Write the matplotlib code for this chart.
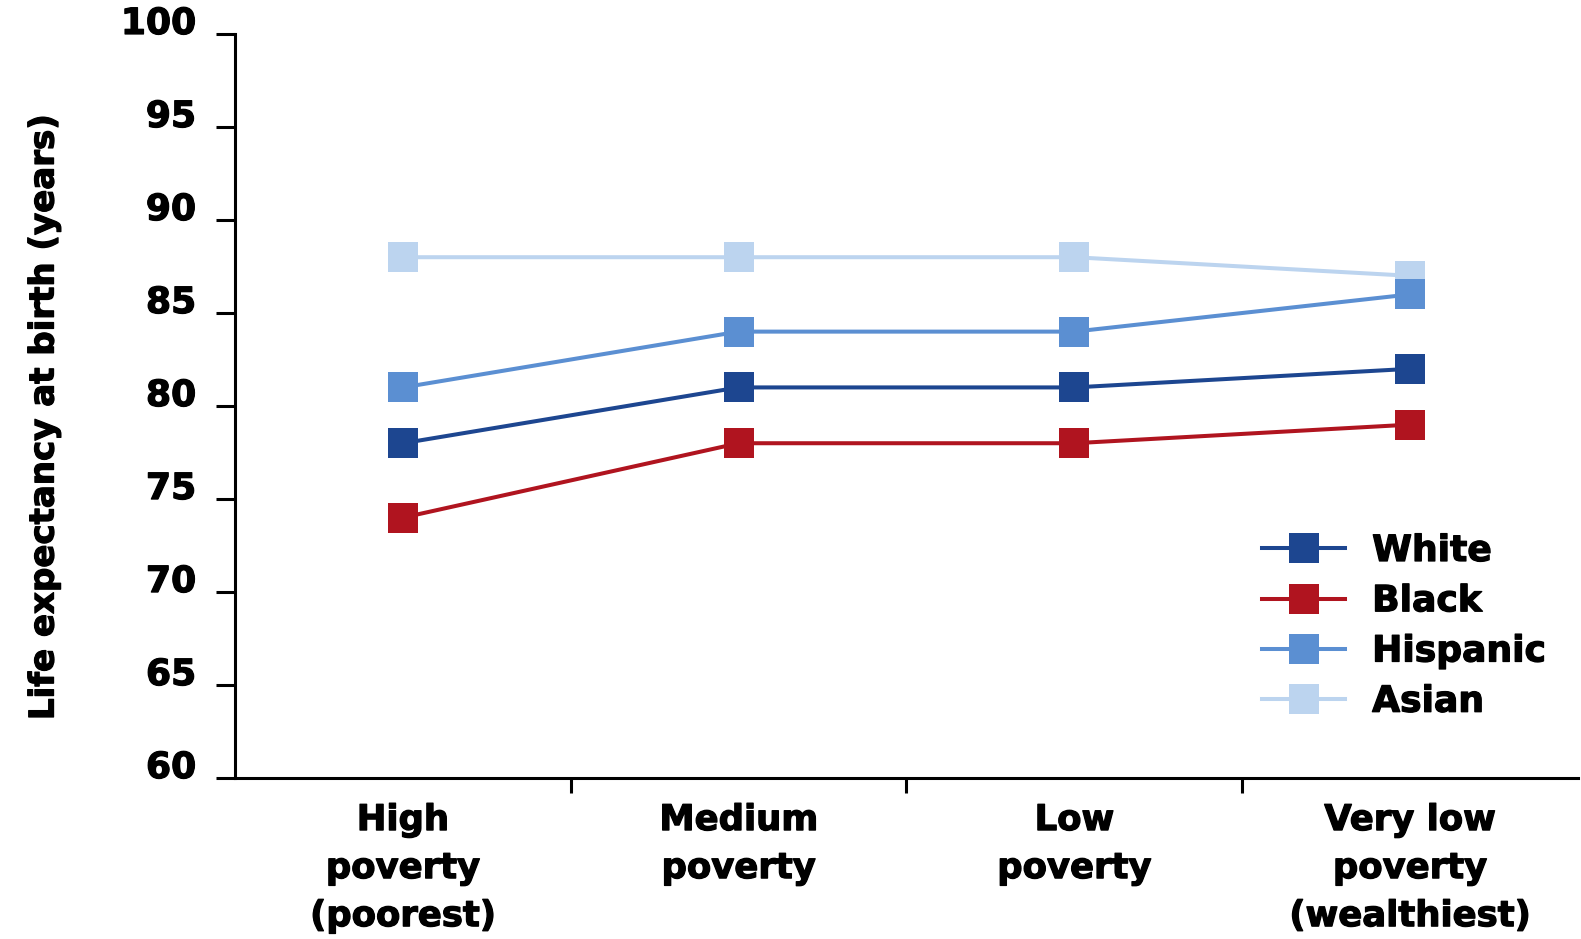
import matplotlib.pyplot as plt
import matplotlib.patheffects as pe

plt.rcParams['font.family'] = ['DejaVu Sans']
plt.rcParams['font.weight'] = 'bold'

categories = ['High\npoverty\n(poorest)', 'Medium\npoverty', 'Low\npoverty', 'Very low\npoverty\n(wealthiest)']
white = [78, 81, 81, 82]
black = [74, 78, 78, 79]
hispanic = [81, 84, 84, 86]
asian = [88, 88, 88, 87]
y_ticks = [60, 65, 70, 75, 80, 85, 90, 95, 100]

series = [
    ('White', white, '#1d4690', 4),
    ('Black', black, '#b0141f', 3),
    ('Hispanic', hispanic, '#5b8fd2', 2),
    ('Asian', asian, '#bcd4ef', 1),
]

heavy = [pe.withStroke(linewidth=0.9, foreground='black')]

fig = plt.figure(figsize=(15.81, 9.39), dpi=100)
ax = fig.add_axes([0.1487, 0.1714, 0.8493, 0.7924])

xpos = [i + 0.5 for i in range(len(categories))]
for name, vals, color, z in series:
    ax.plot(xpos, vals, color=color, lw=2.9, marker='s', markersize=21,
            markeredgewidth=0, label=name, zorder=z)

ax.set_xlim(0, 4)
ax.set_ylim(60, 100)
ax.set_yticks(y_ticks)
ax.set_yticklabels([str(v) for v in y_ticks], fontsize=26, fontweight='bold', va='baseline')
ax.tick_params(axis='y', length=14, width=2.2, pad=14)

ax.set_xticks([1, 2, 3])
ax.set_xticklabels([])
ax.tick_params(axis='x', which='major', length=11, width=2.2)
ax.set_xticks(xpos, minor=True)
ax.set_xticklabels(categories, minor=True, fontsize=25.5, fontweight='bold', linespacing=1.52)
ax.tick_params(axis='x', which='minor', length=0, pad=18)

for s in ['top', 'right']:
    ax.spines[s].set_visible(False)
for s in ['left', 'bottom']:
    ax.spines[s].set_linewidth(2.2)

ax.set_ylabel('Life expectancy at birth (years)', fontsize=24.5, fontweight='bold')
ax.yaxis.set_label_coords(-0.13, 0.485)

leg = ax.legend(loc='upper left', bbox_to_anchor=(1262 / 1581, 1 - 534 / 939),
                bbox_transform=fig.transFigure, frameon=False, fontsize=26,
                handlelength=2.3, handletextpad=0.75, labelspacing=0.45,
                borderpad=0, borderaxespad=0)

texts = ax.get_yticklabels() + ax.get_xticklabels(minor=True) + leg.get_texts() + [ax.yaxis.label]
for t in texts:
    t.set_fontweight('bold')
    t.set_path_effects(heavy)

fig.savefig('out.png', dpi=100, facecolor='white')
